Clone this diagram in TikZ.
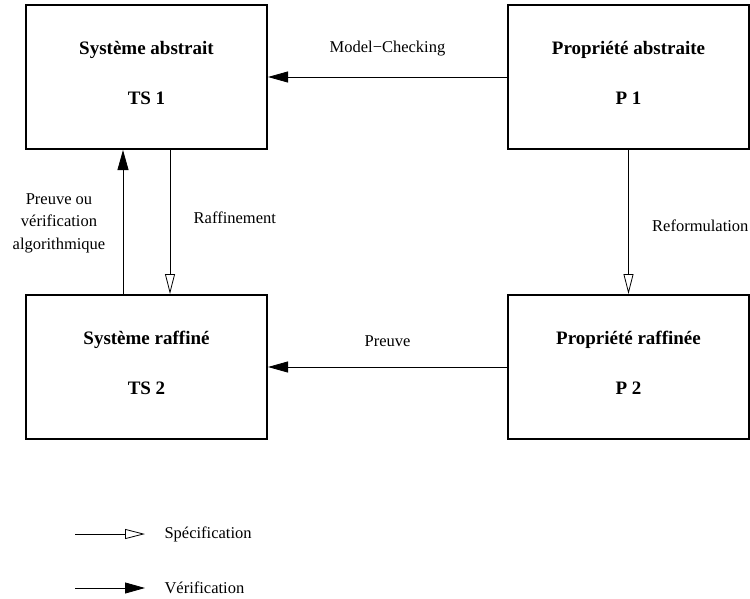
\documentclass[tikz,border=0pt]{standalone}
\usepackage{fontspec}
\setmainfont{Liberation Serif}
\usepackage{tikz}
\usetikzlibrary{positioning,arrows.meta,calc}
\newcommand{\lowpad}{\rule[-8pt]{0pt}{8pt}}
\tikzset{
	every node/.style = { align = center },
	sys/.style = { draw, line width=2pt, minimum width=241pt, minimum height=144pt, inner sep=0pt,
		font=\fontsize{19}{28}\selectfont\bfseries },
	lbl/.style = { font=\fontsize{16.5}{22.5}\selectfont },
	spec/.style = { line width=0.8pt, -{Triangle[open,length=20pt,width=10pt,line width=0.8pt]} },
	verif/.style = { line width=0.8pt, -{Triangle[length=20pt,width=11pt]} },
}
\begin{document}
\begin{tikzpicture}[x=1pt,y=1pt,node distance=239pt and 144pt]
\useasboundingbox (0,0) rectangle (750,-598);

\node (ts1) [sys] at (146.5,-77) {Système abstrait\\[22pt]TS 1\lowpad};
\node (p1)  [sys,right=239pt of ts1] {Propriété abstraite\\[22pt]P 1\lowpad};
\node (ts2) [sys,below=144pt of ts1] {Système raffiné\\[22pt]TS 2\lowpad};
\node (p2)  [sys,below=144pt of p1]  {Propriété raffinée\\[22pt]P 2\lowpad};

\draw[verif] (p1) -- (ts1) node[lbl,midway,above=17pt] {Model−Checking};
\draw[verif] (p2) -- (ts2) node[lbl,midway,above=17pt] {Preuve};
\draw[spec]  (p1) -- (p2)  node[lbl,midway,right=20pt,yshift=-4pt] {Reformulation};
\draw[spec]  ([xshift=23.5pt]ts1.south) -- ([xshift=23.5pt]ts2.north)
	node[lbl,midway,right=20pt,yshift=4pt] {Raffinement};
\draw[verif] ([xshift=-23.5pt]ts2.north) -- ([xshift=-23.5pt]ts1.south)
	node[lbl,midway,left=14pt,yshift=-1pt] {Preuve ou\\vérification\\algorithmique};

% legende
\node (lspec)  [lbl,anchor=west] at (161,-534) {Spécification};
\node (lverif) [lbl,anchor=west] at (161,-588) {Vérification};
\draw[spec]  ([xshift=-86pt]lspec.west)  -- ([xshift=-16pt]lspec.west);
\draw[verif] ([xshift=-86pt]lverif.west) -- ([xshift=-16pt]lverif.west);

\end{tikzpicture}
\end{document}
